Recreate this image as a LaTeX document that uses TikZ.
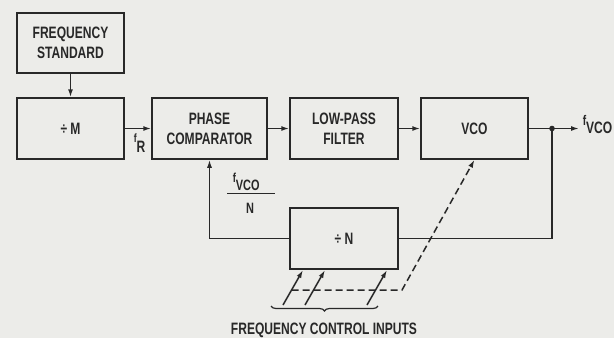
\documentclass[tikz,border=0pt]{standalone}
\usepackage{fontspec}
\setmainfont{Liberation Sans}[FakeStretch=0.73]
\usetikzlibrary{arrows.meta,decorations.pathreplacing,calc}
\definecolor{bg}{RGB}{236,236,233}
\definecolor{ink}{RGB}{40,40,40}
\begin{document}
\begin{tikzpicture}[x=1pt,y=-1pt,line width=1.5pt,color=ink,
  every node/.style={font=\bfseries\fontsize{16.5}{20}\selectfont,text=ink},
  box/.style={draw=ink,line width=1.5pt,align=center,inner sep=0pt},
  arr/.style={-{Latex[length=8pt,width=5pt]}}]
\fill[bg] (0,0) rectangle (614,338);
\useasboundingbox (0,0) rectangle (614,338);
% boxes
\node[box,minimum width=107pt,minimum height=60pt] (fs) at (70.5,43) {FREQUENCY\\STANDARD};
\node[box,minimum width=107pt,minimum height=61pt] (divm) at (70.5,128.5) {÷ M};
\node[box,minimum width=115pt,minimum height=61pt] (pc) at (209.5,128.5) {PHASE\\COMPARATOR};
\node[box,minimum width=108pt,minimum height=61pt] (lpf) at (344,128.5) {LOW-PASS\\FILTER};
\node[box,minimum width=107pt,minimum height=61pt] (vco) at (474.5,128.5) {VCO};
\node[box,minimum width=108pt,minimum height=61pt] (divn) at (344,238.5) {÷ N};
% connectors
\draw[arr] (fs) -- (divm);
\draw[arr] (divm) -- (pc);
\draw[arr] (pc) -- (lpf);
\draw[arr] (lpf) -- (vco);
\coordinate (j) at (552,128.5);
\coordinate (out) at (579,128.5);
\draw (vco.east) -- (j);
\draw[arr] (j) -- (out);
\fill (j) circle (2.8);
\draw (j) |- (divn.east);
\draw[arr] (divn.west) -| (pc.south);
% labels
\node[anchor=base west,inner sep=0pt] (lout) at (582,125) {{\fontsize{14}{14}\selectfont f}\raisebox{-8pt}{VCO}};
\node[anchor=base west,inner sep=0pt] (lfr) at (133,142) {{\fontsize{12}{12}\selectfont f}\raisebox{-10pt}{R}};
\node[anchor=base west,inner sep=0pt,font=\bfseries\fontsize{15}{15}\selectfont] (lfn) at (232,182) {{\fontsize{13}{13}\selectfont f}\raisebox{-8pt}{VCO}};
\draw[line width=1.2pt] (227,193.5) -- (275,193.5);
\node[anchor=base,inner sep=0pt,font=\bfseries\fontsize{15}{15}\selectfont] (lN) at (250,213) {N};
% frequency control inputs
\coordinate (i1) at (283,305); \coordinate (t1) at (303,270);
\coordinate (i2) at (305,305); \coordinate (t2) at (325,270);
\coordinate (i3) at (367,305); \coordinate (t3) at (387,270);
\draw[arr] (i1) -- (t1);
\draw[arr] (i2) -- (t2);
\draw[arr] (i3) -- (t3);
\coordinate (d0) at (291.6,290);
\coordinate (d1) at (402,290);
\draw[arr,dash pattern=on 7pt off 4pt] (d0) -- (d1) -- (vco.south);
\draw[decorate,decoration={brace,mirror,amplitude=5pt},line width=1.2pt] (271,306) -- (378,306);
\node (lfc) at (324,330) {FREQUENCY CONTROL INPUTS};
\end{tikzpicture}
\end{document}
